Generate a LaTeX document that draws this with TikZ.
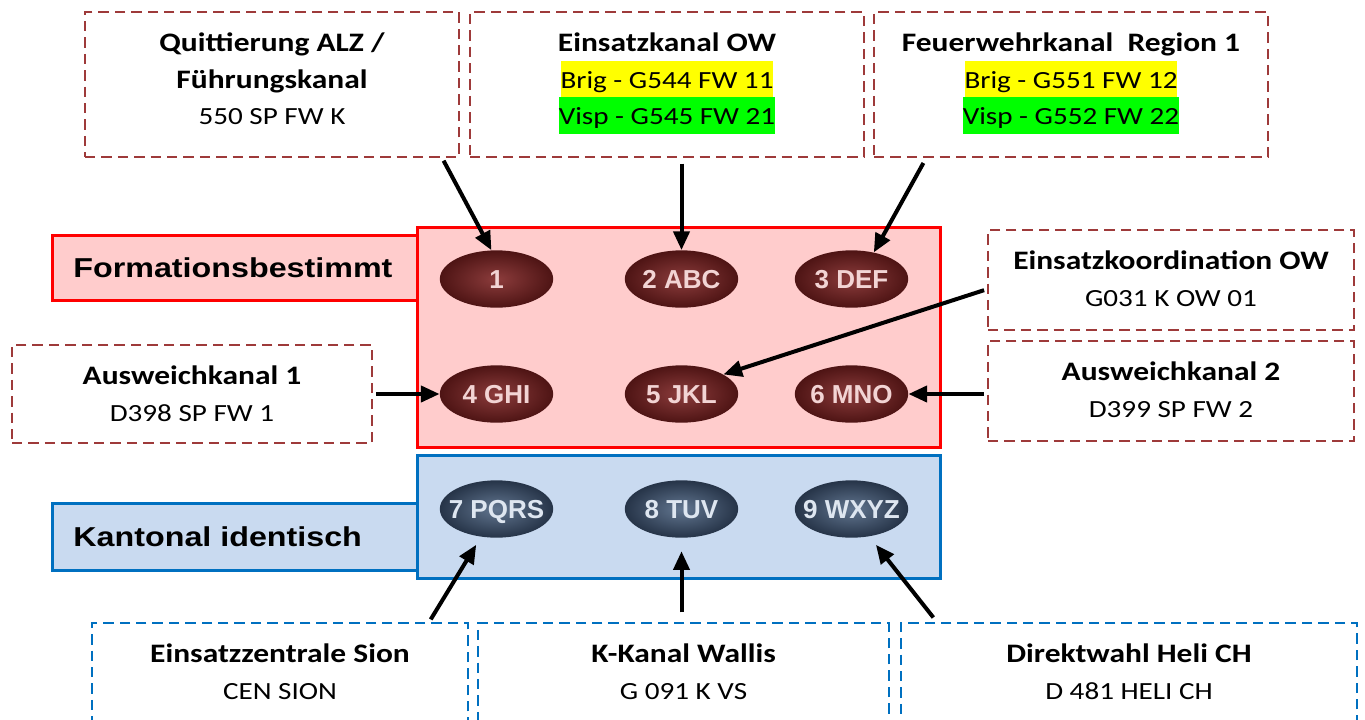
\documentclass[tikz,border=0pt]{standalone}
\usepackage{fontspec}
\setmainfont{Carlito}
\newfontfamily\boxfont[FakeStretch=1.18]{Carlito}
\newfontfamily\labelfont[FakeStretch=1.18]{Liberation Sans}
\newfontfamily\keyfont{Liberation Sans}
\usetikzlibrary{shapes.geometric,fit,positioning,arrows.meta}
\definecolor{boxred}{RGB}{158,58,58}
\definecolor{boxblue}{RGB}{0,112,192}
\definecolor{panelred}{RGB}{255,204,204}
\definecolor{panelblue}{RGB}{201,218,240}
\definecolor{hlyellow}{RGB}{255,255,0}
\definecolor{hlgreen}{RGB}{0,255,0}
\definecolor{keyredin}{RGB}{140,60,60}
\definecolor{keyredout}{RGB}{78,20,20}
\definecolor{keyredtext}{RGB}{242,212,212}
\definecolor{keybluein}{RGB}{98,118,144}
\definecolor{keyblueout}{RGB}{38,52,72}
\definecolor{keybluetext}{RGB}{222,230,240}
\setlength{\fboxsep}{0pt}
\newcommand{\chanhead}[1]{{\bfseries\fontsize{20}{27.5}\selectfont\rule{0pt}{16pt}#1}}
\newcommand{\hilite}[2]{\colorbox{#1}{\rule[-7pt]{0pt}{27.5pt}#2}}
\begin{document}
\begin{tikzpicture}[x=.75pt,y=-.75pt,
  chanbox/.style={draw=boxred,line width=2pt,dash pattern=on 7.8pt off 4.5pt,inner sep=0pt},
  kantbox/.style={chanbox,draw=boxblue},
  chantext/.style={inner sep=0pt,align=center,font=\boxfont\fontsize{18.5}{27.5}\selectfont},
  panel/.style={draw=red,fill=panelred,line width=2.25pt,inner sep=0pt},
  bluepanel/.style={panel,draw=boxblue,fill=panelblue},
  grouptext/.style={inner sep=0pt,font=\labelfont\bfseries\fontsize{20.5}{24}\selectfont},
  key/.style={ellipse,inner xsep=-10pt,inner ysep=0pt,minimum width=85pt,minimum height=43pt,text height=14pt,text depth=0pt,shading=radial,inner color=keyredin,outer color=keyredout,text=keyredtext,font=\keyfont\bfseries\fontsize{19.5}{23}\selectfont},
  bluekey/.style={key,inner color=keybluein,outer color=keyblueout,text=keybluetext},
  pointer/.style={-{Triangle[length=14pt,width=12pt]},line width=3pt,shorten <=2pt}]
\path[use as bounding box] (0,0) rectangle (1365,719);
\path[fill=white] (0,0) rectangle (1365,719);
\node[panel,fit={(52,235) (417,300)}] (formbox) {};
\node[grouptext,right=17pt of formbox.west] (formtext) {Formationsbestimmt};
\node[panel,fit={(417,227) (940,447)}] (formpanel) {};
\node[bluepanel,fit={(52,503) (417,570)}] (kantbox) {};
\node[grouptext,right=17pt of kantbox.west] (kanttext) {Kantonal identisch};
\node[bluepanel,fit={(417,455) (940,578)}] (kantpanel) {};
\node[key] (k1) at (496.5,279) {1};
\node[key] (k2) at (681.5,279) {2 ABC};
\node[key] (k3) at (851.5,279) {3 DEF};
\node[key] (k4) at (496.5,394) {4 GHI};
\node[key] (k5) at (681.5,394) {5 JKL};
\node[key] (k6) at (851.5,394) {6 MNO};
\node[bluekey] (k7) at (496.5,509) {7 PQRS};
\node[bluekey] (k8) at (681.5,509) {8 TUV};
\node[bluekey] (k9) at (851.5,509) {9 WXYZ};
\node[chanbox,fit={(85,12) (459,157)}] (quitt) {};
\node[chantext,below=14.4pt of quitt.north] (quitttext) {\chanhead{Quittierung ALZ /}\\\chanhead{Führungskanal}\\550 SP FW K};
\node[chanbox,fit={(470,12) (864,157)}] (einsatz) {};
\node[chantext,below=14.4pt of einsatz.north] (einsatztext) {\chanhead{Einsatzkanal OW}\\\hilite{hlyellow}{Brig - G544 FW 11}\\\hilite{hlgreen}{Visp - G545 FW 21}};
\node[chanbox,fit={(874,12) (1268,157)}] (feuer) {};
\node[chantext,below=14.4pt of feuer.north] (feuertext) {\chanhead{Feuerwehrkanal\ \ Region 1}\\\hilite{hlyellow}{Brig - G551 FW 12}\\\hilite{hlgreen}{Visp - G552 FW 22}};
\node[chanbox,fit={(988,230) (1354,330)}] (koord) {};
\node[chantext,below=14.4pt of koord.north] (koordtext) {\chanhead{Einsatzkoordination OW}\\G031 K OW 01};
\node[chanbox,fit={(12,345) (372,443)}] (ausw1) {};
\node[chantext,below=14.4pt of ausw1.north] (ausw1text) {\chanhead{Ausweichkanal 1}\\D398 SP FW 1};
\node[chanbox,fit={(988,341) (1354,441)}] (ausw2) {};
\node[chantext,below=14.4pt of ausw2.north] (ausw2text) {\chanhead{Ausweichkanal 2}\\D399 SP FW 2};
\node[kantbox,fit={(92,623) (468,729)}] (zentrale) {};
\node[chantext,below=14.4pt of zentrale.north] (zentraletext) {\chanhead{Einsatzzentrale Sion}\\CEN SION};
\node[kantbox,fit={(478,623) (889,729)}] (kkanal) {};
\node[chantext,below=14.4pt of kkanal.north] (kkanaltext) {\chanhead{K-Kanal Wallis}\\G 091 K VS};
\node[kantbox,fit={(901,623) (1357,729)}] (heli) {};
\node[chantext,below=14.4pt of heli.north] (helitext) {\chanhead{Direktwahl Heli CH}\\D 481 HELI CH};
\draw[pointer] ([xshift=-13.5pt]quitt.south east) -- (k1.100);
\draw[pointer,shorten <=4pt] (einsatz.south -| k2.north) -- (k2.north);
\draw[pointer,shorten <=4pt] ([xshift=40pt]feuer.south west) -- (k3.50);
\draw[pointer] ([yshift=-7pt]koord.west) -- (k5.25);
\draw[pointer] (ausw1.east) -- (k4.west);
\draw[pointer] (ausw2.west |- k6.east) -- (k6.east);
\draw[pointer,shorten >=7pt] ([xshift=-30pt]zentrale.north east) -- (k7.241);
\draw[pointer,shorten <=7pt,shorten >=10pt] (kkanal.north -| k8.south) -- (k8.south);
\draw[pointer,shorten <=4pt,shorten >=8pt] ([xshift=27.75pt]heli.north west) -- (k9.303);
\end{tikzpicture}
\end{document}
